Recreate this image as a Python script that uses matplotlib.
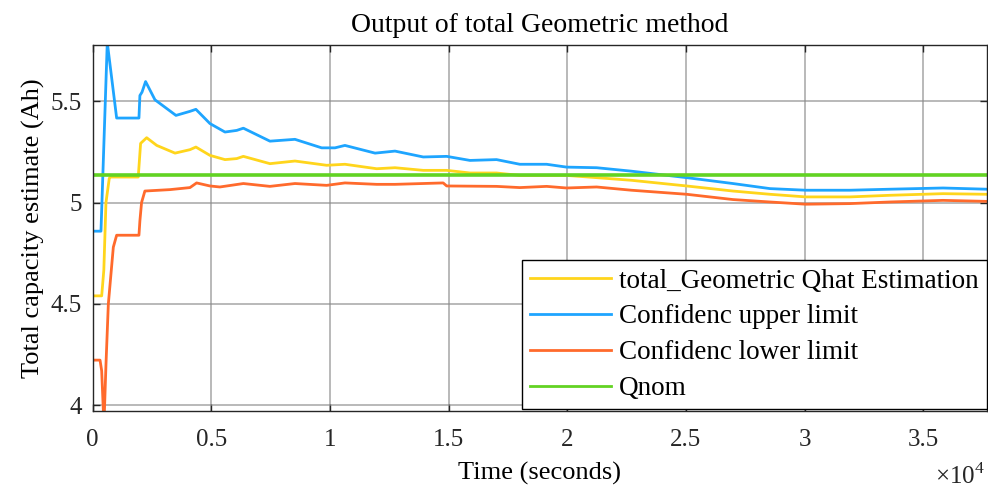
import matplotlib
matplotlib.use("Agg")
import matplotlib.pyplot as plt
from matplotlib.ticker import FuncFormatter

plt.rcParams['font.family'] = ['Liberation Serif', 'DejaVu Serif']
plt.rcParams['mathtext.fontset'] = 'custom'
plt.rcParams['mathtext.rm'] = 'Liberation Serif'

# Upper confidence limit
t_upper = [0, 350, 615, 1010, 1950, 1990, 2080, 2230, 2625, 3510, 4100, 4350, 4940,
           5575, 6070, 6350, 7470, 8525, 9650, 10210, 10630, 11900, 12740, 13930,
           14920, 15900, 17020, 18000, 19130, 19970, 21240, 22700, 25030, 26980,
           28540, 30050, 31910, 33600, 35830, 37680]
q_upper = [4.859, 4.859, 5.79, 5.417, 5.417, 5.528, 5.545, 5.597, 5.507, 5.43, 5.45,
           5.46, 5.39, 5.348, 5.356, 5.367, 5.303, 5.312, 5.27, 5.27, 5.282, 5.244,
           5.254, 5.225, 5.228, 5.208, 5.212, 5.189, 5.189, 5.175, 5.172, 5.155,
           5.123, 5.094, 5.069, 5.061, 5.061, 5.066, 5.072, 5.066]

# Geometric Qhat estimate
t_est = [0, 380, 470, 560, 700, 760, 1920, 2020, 2275, 2700, 3470, 4100, 4350, 4940,
         5575, 6070, 6350, 7470, 8525, 9860, 10630, 11970, 12740, 13930, 14920,
         15900, 17020, 18000, 19970, 21240, 22700, 25030, 26980, 28540, 30050,
         31910, 33600, 35830, 37680]
q_est = [4.54, 4.54, 4.667, 5.0, 5.12, 5.126, 5.126, 5.292, 5.32, 5.282, 5.244, 5.261,
         5.274, 5.233, 5.212, 5.217, 5.228, 5.192, 5.205, 5.184, 5.189, 5.167, 5.172,
         5.159, 5.159, 5.146, 5.146, 5.134, 5.134, 5.123, 5.11, 5.082, 5.057, 5.041,
         5.028, 5.028, 5.036, 5.044, 5.041]

# Lower confidence limit
t_lower = [0, 310, 380, 475, 560, 660, 870, 1010, 1950, 1990, 2060, 2200, 3260, 4100,
           4380, 4940, 5360, 6350, 7470, 8525, 9860, 10630, 11970, 12740, 14770,
           14920, 17020, 18000, 19130, 19970, 21240, 22700, 25030, 26980, 28540,
           30050, 31910, 33600, 35830, 37680]
q_lower = [4.223, 4.223, 4.17, 3.9, 4.2, 4.5, 4.78, 4.839, 4.839, 4.91, 5.0, 5.057,
           5.064, 5.074, 5.097, 5.082, 5.077, 5.094, 5.08, 5.094, 5.085, 5.097, 5.09,
           5.09, 5.097, 5.082, 5.08, 5.074, 5.08, 5.072, 5.077, 5.061, 5.041, 5.015,
           5.003, 4.992, 4.995, 5.003, 5.011, 5.006]

q_nom = 5.134
t_end = 37680

x_ticks = [0, 5000, 10000, 15000, 20000, 25000, 30000, 35000]
y_ticks = [4, 4.5, 5, 5.5]

labels = ["total_Geometric Qhat Estimation", "Confidenc upper limit",
          "Confidenc lower limit", "Qnom"]
colors = ["#FFD51C", "#1EA5FF", "#FF6A2C", "#62D322"]

fig = plt.figure(figsize=(9.88, 4.92), dpi=100)
ax = fig.add_axes([0.0938, 0.1646, 0.905, 0.743])

ax.plot(t_est, q_est, color=colors[0], lw=2.0, label=labels[0])
ax.plot(t_upper, q_upper, color=colors[1], lw=2.0, label=labels[1])
ax.plot(t_lower, q_lower, color=colors[2], lw=2.0, label=labels[2])
ax.plot([0, t_end], [q_nom, q_nom], color=colors[3], lw=2.6, label=labels[3])

ax.set_xlim(0, t_end)
ax.set_ylim(3.972, 5.775)
ax.set_xticks(x_ticks)
ax.set_yticks(y_ticks)
ax.xaxis.set_major_formatter(FuncFormatter(lambda v, p: f"{v / 1e4:g}"))
ax.yaxis.set_major_formatter(FuncFormatter(lambda v, p: f"{v:g}"))

ax.grid(True, color="#8a8a8a", lw=1.2, alpha=0.7)
ax.set_axisbelow(True)
ax.tick_params(direction='in', top=True, right=True, length=5, width=1,
               labelsize=18, colors="#262626")
ax.tick_params(axis='x', pad=13)
ax.tick_params(axis='y', pad=8)
for s in ax.spines.values():
    s.set_color("#262626")
    s.set_linewidth(1.0)

ax.set_title("Output of total Geometric method", fontsize=20, pad=10)
ax.set_xlabel("Time (seconds)", fontsize=19, labelpad=8)
ax.set_ylabel("Total capacity estimate (Ah)", fontsize=19, labelpad=4)

# axis multiplier shown below the right end of the x axis
fig.text(0.997, 0.006, r"$\times10^4$", fontsize=18, ha='right', va='bottom',
         color="#262626")

leg = ax.legend(loc='lower right', bbox_to_anchor=(1.0, 0.005), fontsize=19.5,
                frameon=True, fancybox=False, framealpha=1, edgecolor='black',
                handlelength=3.0, handletextpad=0.3, borderpad=0.3,
                labelspacing=0.4, borderaxespad=0)
leg.get_frame().set_linewidth(1.0)
for line in leg.get_lines():
    line.set_linewidth(2.0)

fig.savefig("out.png", dpi=100)
